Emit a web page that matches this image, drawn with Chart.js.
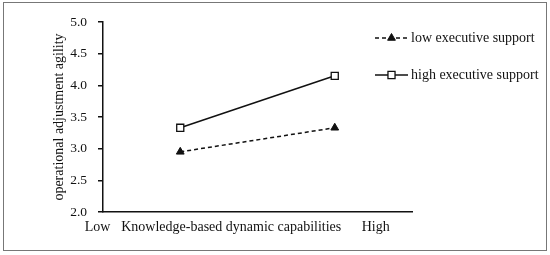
<!DOCTYPE html>
<html>
<head>
<meta charset="utf-8">
<script src="https://cdn.jsdelivr.net/npm/chart.js@4.4.1/dist/chart.umd.min.js"></script>
<style>
  body { margin: 0; background: #fff; }
  canvas { display: block; }
</style>
</head>
<body>
<canvas id="myChart" width="550" height="255"></canvas>
<script>
  // data
  var levelX = [1, 3];                 // Low / High on a 0..4 axis
  var lowSupport = [2.95, 3.33];
  var highSupport = [3.33, 4.15];
  var seriesNames = ["low executive support", "high executive support"];
  var xTickLabels = ["Low", "Knowledge-based dynamic capabilities", "High"];
  var yTicks = [2.0, 2.5, 3.0, 3.5, 4.0, 4.5, 5.0];

  var serif = "'Liberation Serif', 'Times New Roman', serif";
  Chart.defaults.font.family = serif;
  Chart.defaults.font.size = 12;
  Chart.defaults.color = "#111";

  function pts(vals) {
    return vals.map(function (v, i) { return { x: levelX[i], y: v }; });
  }

  //border round the whole figure + hand drawn legend (line + marker)
  var frame = {
    id: "frame",
    beforeDraw: function (chart) {
      var c = chart.ctx;
      c.save();
      c.fillStyle = "#fff";
      c.fillRect(0, 0, chart.width, chart.height);
      c.strokeStyle = "#777";
      c.lineWidth = 1;
      c.strokeRect(3.5, 2.5, 543, 248);
      c.restore();
    },
    afterDraw: function (chart) {
      var c = chart.ctx;
      var rows = [38, 75];
      c.save();
      chart.data.datasets.forEach(function (ds, i) {
        var y = rows[i];
        c.strokeStyle = ds.borderColor;
        c.lineWidth = ds.borderWidth;
        c.setLineDash(ds.borderDash || []);
        c.beginPath();
        c.moveTo(375, y);
        c.lineTo(408, y);
        c.stroke();
        c.setLineDash([]);
        c.fillStyle = ds.pointBackgroundColor;
        c.strokeStyle = ds.pointBorderColor;
        c.lineWidth = ds.pointBorderWidth;
        c.beginPath();
        Chart.helpers.drawPoint(c, {
          pointStyle: ds.pointStyle,
          radius: ds.pointRadius,
          borderWidth: ds.pointBorderWidth
        }, 391.5, y);
        c.fillStyle = "#111";
        c.font = "14px " + serif;
        c.textAlign = "left";
        c.textBaseline = "middle";
        c.fillText(ds.label, 411, y);
      });
      c.restore();
    }
  };

  var data2 = {
    datasets: [{
      label: seriesNames[0],
      data: pts(lowSupport),
      borderColor: "#111",
      borderWidth: 1.5,
      borderDash: [4, 3],
      pointStyle: "triangle",
      pointRadius: 4.5,
      pointBackgroundColor: "#111",
      pointBorderColor: "#111",
      pointBorderWidth: 1
    }, {
      label: seriesNames[1],
      data: pts(highSupport),
      borderColor: "#111",
      borderWidth: 1.5,
      pointStyle: "rect",
      pointRadius: 5,
      pointBackgroundColor: "#fff",
      pointBorderColor: "#111",
      pointBorderWidth: 1.3
    }]
  };

  var options = {
    responsive: false,
    animation: false,
    devicePixelRatio: 1,
    layout: { padding: { left: 48, right: 138, top: 22, bottom: 21 } },
    plugins: {
      legend: { display: false },
      tooltip: { enabled: false }
    },
    scales: {
      x: {
        type: "linear",
        min: 0,
        max: 4,
        afterBuildTicks: function (scale) {
          var at = [-0.07, 1.66, 3.53];
          scale.ticks = at.map(function (v) { return { value: v }; });
        },
        afterFit: function (scale) { scale.height = 22; },
        ticks: {
          autoSkip: false,
          maxRotation: 0,
          padding: 7,
          font: { size: 14 },
          callback: function (v, i) { return xTickLabels[i]; }
        },
        grid: { display: false, drawTicks: false },
        border: { display: true, color: "#111", width: 1.5 }
      },
      y: {
        min: 2,
        max: 5,
        afterBuildTicks: function (scale) {
          scale.ticks = yTicks.map(function (v) { return { value: v }; });
        },
        afterFit: function (scale) { scale.width = 55; },
        ticks: {
          padding: 11,
          font: { size: 13.5 },
          callback: function (v) { return v.toFixed(1); }
        },
        grid: { drawOnChartArea: false, drawTicks: true, tickLength: 5, color: "#111", lineWidth: 1.5 },
        border: { display: true, color: "#111", width: 1.5 },
        title: {
          display: true,
          text: "operational adjustment agility",
          padding: { top: 3, bottom: 0 },
          font: { size: 14 }
        }
      }
    }
  };

  var ctx = document.getElementById("myChart");
  var chart2 = new Chart(ctx, {
    type: "line",
    data: data2,
    options: options,
    plugins: [frame]
  });
</script>
</body>
</html>
